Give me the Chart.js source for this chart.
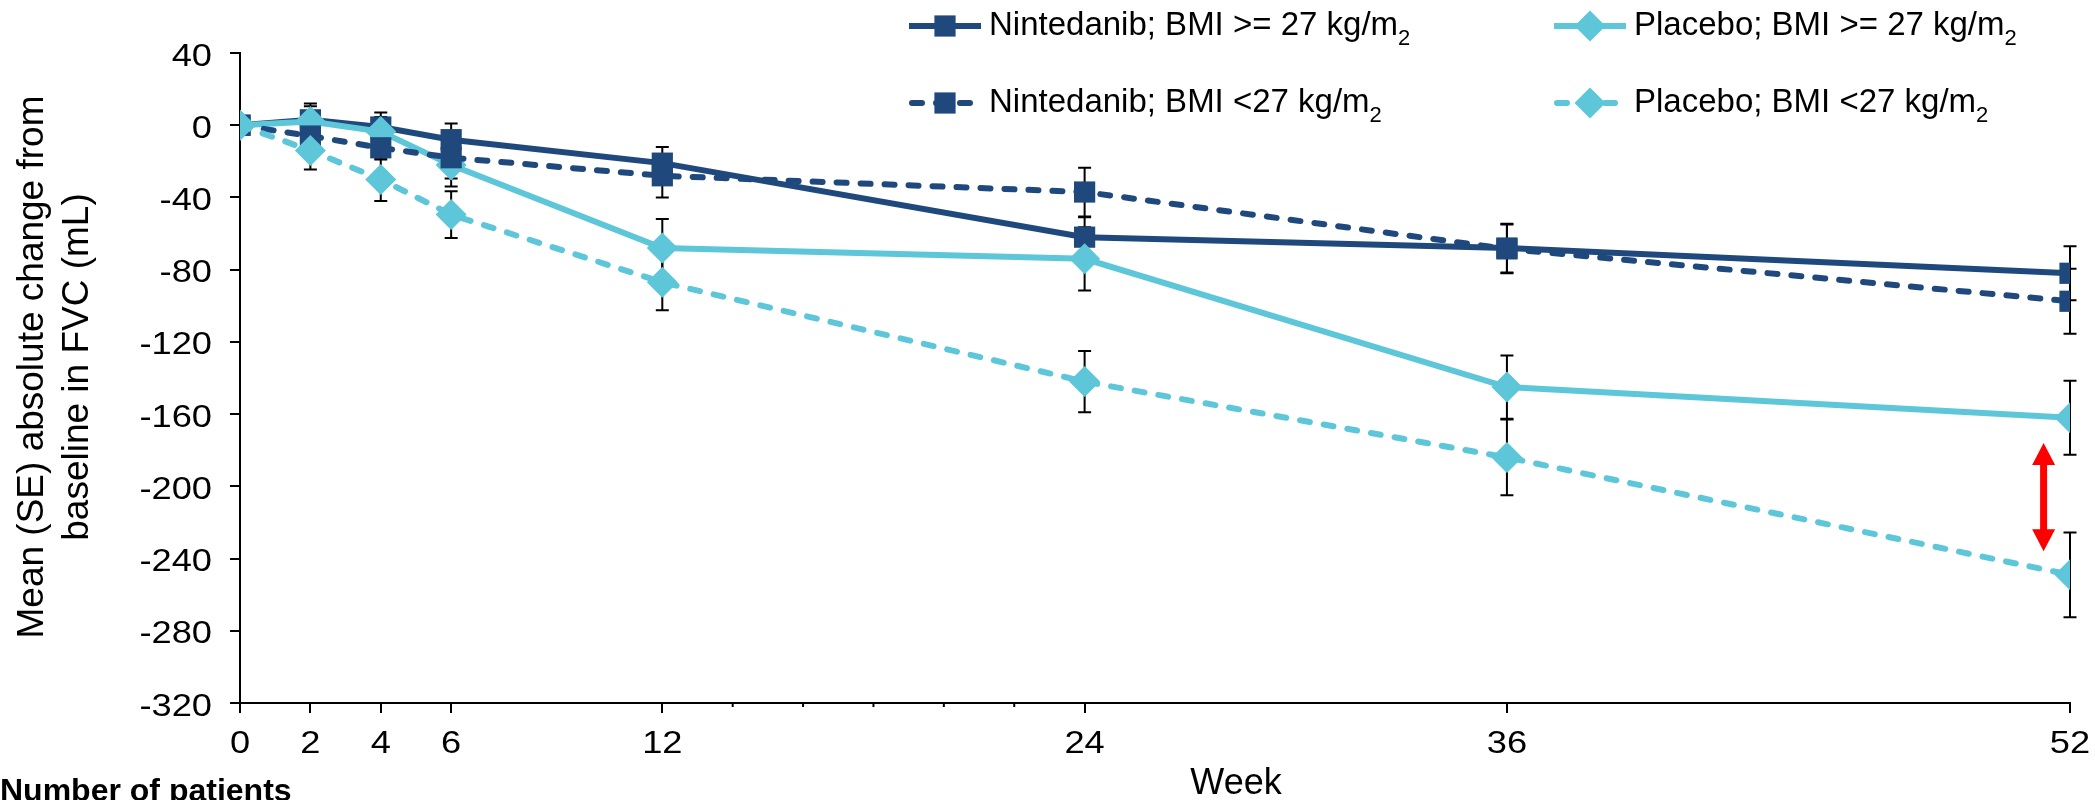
<!DOCTYPE html>
<html>
<head>
<meta charset="utf-8">
<script src="https://cdn.jsdelivr.net/npm/chart.js@4.4.1/dist/chart.umd.min.js"></script>
<style>
  html, body { margin: 0; padding: 0; background: #fff; }
</style>
</head>
<body>
<canvas id="fvcChart" width="2095" height="800"></canvas>
<script>
// weeks and tick labels
const weeks = [0, 2, 4, 6, 12, 24, 36, 52];
const xTickValues = [0, 2, 4, 6, 12, 24, 36, 52];
const xMinorTicks = [14, 16, 18, 20, 22];
const yMin = -320;
const yMax = 40;
const yStep = 40;

// mean change from baseline (mL) and SE
const nintHigh = [0, 3, -1, -8, -21, -62, -68, -82];
const nintHighSE = [0, 9, 8, 9, 9, 11, 13.5, 15];
const nintLow = [0, -6, -12.5, -18, -28, -37, -68.5, -97.5];
const nintLowSE = [0, 8, 6.5, 11.5, 12, 13.5, 13.5, 18];
const placHigh = [0, 2, -3.5, -22, -68, -74, -145, -162];
const placHighSE = [0, 8.5, 8, 12, 16, 17.5, 17.5, 20.5];
const placLow = [0, -14, -30, -49.5, -87, -142, -184, -249];
const placLowSE = [0, 10.5, 12, 13, 15.5, 17, 21, 23.5];

// red difference arrow at week 52 (in data units)
const arrowWeek = 51.25;
const arrowFrom = -176;
const arrowTo = -236;

const DARK = '#1f497d';
const LIGHT = '#5dc6d9';
const FONT = '"Liberation Sans", Arial, sans-serif';
const DASH = [10, 14];

function makeSeries(label, values, se, color, dashed, shape, radius, order) {
  return {
    label: label,
    data: weeks.map((w, i) => ({ x: w, y: values[i] })),
    se: se,
    borderColor: color,
    backgroundColor: color,
    borderWidth: 6,
    borderDash: dashed ? DASH : [],
    borderCapStyle: dashed ? 'round' : 'butt',
    pointStyle: shape,
    pointRadius: radius,
    pointHoverRadius: radius,
    pointBackgroundColor: color,
    pointBorderColor: color,
    pointBorderWidth: 0,
    tension: 0,
    fill: false,
    order: order
  };
}

const datasets = [
  makeSeries('Nintedanib; BMI >= 27 kg/m', nintHigh, nintHighSE, DARK, false, 'rect', 15, 4),
  makeSeries('Placebo; BMI >= 27 kg/m', placHigh, placHighSE, LIGHT, false, 'rectRot', 15.5, 3),
  makeSeries('Nintedanib; BMI <27 kg/m', nintLow, nintLowSE, DARK, true, 'rect', 15, 2),
  makeSeries('Placebo; BMI <27 kg/m', placLow, placLowSE, LIGHT, true, 'rectRot', 15.5, 1)
];

// legend grid: [column x of sample start, row y]
const legendCols = [909, 1554];
const legendRows = [26, 103];

const errorBars = {
  id: 'errorBars',
  beforeDatasetsDraw(chart) {
    const ctx = chart.ctx;
    const x = chart.scales.x, y = chart.scales.y;
    ctx.save();
    ctx.strokeStyle = '#000';
    ctx.lineWidth = 2;
    chart.data.datasets.forEach(ds => {
      ds.data.forEach((p, i) => {
        const e = ds.se[i];
        if (!e) return;
        const px = x.getPixelForValue(p.x);
        const top = y.getPixelForValue(p.y + e);
        const bot = y.getPixelForValue(p.y - e);
        ctx.beginPath();
        ctx.moveTo(px, top); ctx.lineTo(px, bot);
        ctx.moveTo(px - 6.5, top); ctx.lineTo(px + 6.5, top);
        ctx.moveTo(px - 6.5, bot); ctx.lineTo(px + 6.5, bot);
        ctx.stroke();
      });
    });
    ctx.restore();
  }
};

function drawMarker(ctx, shape, cx, cy, r) {
  ctx.beginPath();
  if (shape === 'rect') {
    const s = r * Math.SQRT1_2;
    ctx.rect(cx - s, cy - s, 2 * s, 2 * s);
  } else {
    ctx.moveTo(cx - r, cy); ctx.lineTo(cx, cy - r);
    ctx.lineTo(cx + r, cy); ctx.lineTo(cx, cy + r);
    ctx.closePath();
  }
  ctx.fill();
}

// tick labels are a bit wide in the original, so draw them stretched
function stretchedText(ctx, text, px, py, align) {
  ctx.save();
  ctx.translate(px, py);
  ctx.scale(1.17, 1);
  ctx.textAlign = align;
  ctx.textBaseline = 'middle';
  ctx.fillText(text, 0, 0);
  ctx.restore();
}

const extras = {
  id: 'extras',
  afterDraw(chart) {
    const ctx = chart.ctx;
    const x = chart.scales.x, y = chart.scales.y;
    const area = chart.chartArea;
    ctx.save();

    // tick labels
    ctx.fillStyle = '#000';
    ctx.font = '31px ' + FONT;
    y.ticks.forEach(t => {
      stretchedText(ctx, String(t.value), area.left - 28, y.getPixelForValue(t.value) + 4, 'right');
    });
    x.ticks.forEach(t => {
      stretchedText(ctx, String(t.value), x.getPixelForValue(t.value), area.bottom + 41, 'center');
    });

    // minor ticks between 12 and 24
    ctx.strokeStyle = '#000';
    ctx.lineWidth = 2;
    xMinorTicks.forEach(v => {
      const px = x.getPixelForValue(v);
      ctx.beginPath();
      ctx.moveTo(px, area.bottom); ctx.lineTo(px, area.bottom + 4);
      ctx.stroke();
    });

    // red arrow
    const ax = x.getPixelForValue(arrowWeek);
    const ay1 = y.getPixelForValue(arrowFrom);
    const ay2 = y.getPixelForValue(arrowTo);
    const head = 22, hw = 11.5, sw = 3.5;
    ctx.fillStyle = '#ff0000';
    ctx.beginPath();
    ctx.moveTo(ax, ay1);
    ctx.lineTo(ax + hw, ay1 + head);
    ctx.lineTo(ax + sw, ay1 + head);
    ctx.lineTo(ax + sw, ay2 - head);
    ctx.lineTo(ax + hw, ay2 - head);
    ctx.lineTo(ax, ay2);
    ctx.lineTo(ax - hw, ay2 - head);
    ctx.lineTo(ax - sw, ay2 - head);
    ctx.lineTo(ax - sw, ay1 + head);
    ctx.lineTo(ax - hw, ay1 + head);
    ctx.closePath();
    ctx.fill();

    // y axis title
    ctx.fillStyle = '#000';
    ctx.font = '37px ' + FONT;
    ctx.textAlign = 'center';
    ctx.textBaseline = 'alphabetic';
    const cy = 367;
    [['Mean (SE) absolute change from', 43], ['baseline in FVC (mL)', 88]].forEach(([t, bx]) => {
      ctx.save();
      ctx.translate(bx, cy);
      ctx.rotate(-Math.PI / 2);
      ctx.fillText(t, 0, 0);
      ctx.restore();
    });

    // x axis title
    ctx.font = '36px ' + FONT;
    ctx.textBaseline = 'middle';
    ctx.fillText('Week', 1236, 784);

    // number of patients
    ctx.font = 'bold 32px ' + FONT;
    ctx.textAlign = 'left';
    ctx.textBaseline = 'alphabetic';
    ctx.fillText('Number of patients', 0, 801);

    // legend
    chart.data.datasets.forEach((ds, i) => {
      const lx = legendCols[i % 2];
      const ly = legendRows[Math.floor(i / 2)];
      ctx.strokeStyle = ds.borderColor;
      ctx.fillStyle = ds.borderColor;
      ctx.lineWidth = 6;
      ctx.lineCap = ds.borderCapStyle;
      ctx.setLineDash(ds.borderDash);
      ctx.beginPath();
      ctx.moveTo(lx + (ds.borderDash.length ? 3 : 0), ly);
      ctx.lineTo(lx + 72, ly);
      ctx.stroke();
      ctx.setLineDash([]);
      ctx.lineCap = 'butt';
      drawMarker(ctx, ds.pointStyle, lx + 36, ly, ds.pointRadius);
      ctx.fillStyle = '#000';
      ctx.font = '33px ' + FONT;
      ctx.textAlign = 'left';
      ctx.textBaseline = 'middle';
      const tx = lx + 80;
      ctx.fillText(ds.label, tx, ly);
      const w = ctx.measureText(ds.label).width;
      ctx.font = '22px ' + FONT;
      ctx.fillText('2', tx + w, ly + 13);
    });

    ctx.restore();
  }
};

new Chart(document.getElementById('fvcChart'), {
  type: 'line',
  data: { datasets: datasets },
  options: {
    responsive: false,
    animation: false,
    events: [],
    layout: { padding: { top: 53, right: 25, left: 0, bottom: 0 } },
    plugins: { legend: { display: false }, tooltip: { enabled: false } },
    scales: {
      x: {
        type: 'linear',
        min: 0,
        max: 52,
        afterBuildTicks: s => { s.ticks = xTickValues.map(v => ({ value: v })); },
        afterFit: s => { s.height = 97; },
        border: { display: true, color: '#000', width: 2 },
        grid: { display: true, drawOnChartArea: false, drawTicks: true, tickLength: 10, color: '#000', lineWidth: 2 },
        ticks: { display: false, autoSkip: false }
      },
      y: {
        min: yMin,
        max: yMax,
        afterFit: s => { s.width = 240; },
        border: { display: true, color: '#000', width: 2 },
        grid: { display: true, drawOnChartArea: false, drawTicks: true, tickLength: 10, color: '#000', lineWidth: 2 },
        ticks: { display: false, stepSize: yStep }
      }
    }
  },
  plugins: [errorBars, extras]
});
</script>
</body>
</html>
